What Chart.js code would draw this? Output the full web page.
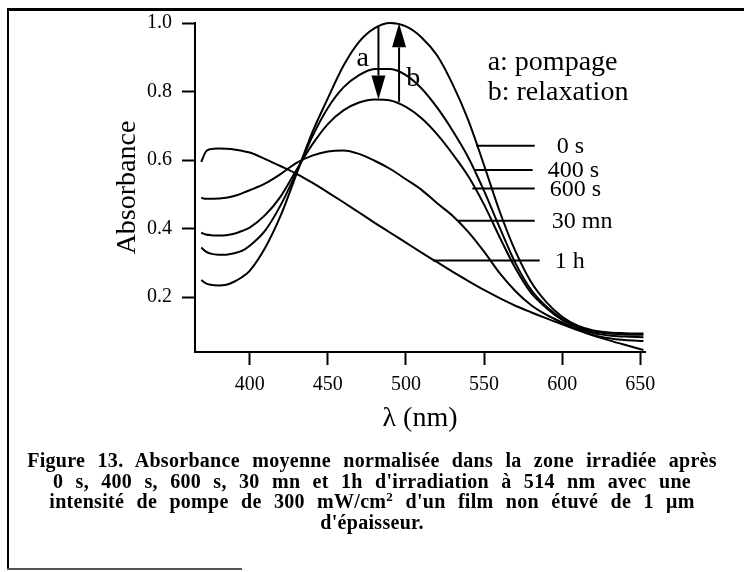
<!DOCTYPE html>
<html lang="fr">
<head>
<meta charset="utf-8">
<title>Figure 13 - Absorbance moyenne normalisée</title>
<script src="https://cdn.jsdelivr.net/npm/chart.js@4.4.1/dist/chart.umd.min.js"></script>
<style>
    html, body { margin: 0; padding: 0; background: #fff; }
    #wrap { position: relative; width: 744px; height: 572px; overflow: hidden; background: #fff; }
    #chart { position: absolute; left: 0; top: 0; }
    .frame { position: absolute; background: #000; }
    #caption {
        position: absolute; left: 0; top: 450px; width: 744px; text-align: center;
        font-family: "Liberation Serif", "Times New Roman", serif; font-weight: bold;
        font-size: 20px; line-height: 20.7px; letter-spacing: 0.3px; word-spacing: 7px; color: #000;
    }
    #caption sup { font-size: 13px; line-height: 0; vertical-align: 0.55em; }
</style>
</head>
<body>
<div id="wrap">
    <canvas id="chart" width="744" height="572"></canvas>
    <div class="frame" style="left:7px; top:8px; width:737px; height:3px;"></div>
    <div class="frame" style="left:7px; top:8px; width:2px; height:562px;"></div>
    <div class="frame" style="left:7px; top:568px; width:235px; height:2px; background:#555;"></div>
    <div id="caption">
        <div>Figure 13. Absorbance moyenne normalisée dans la zone irradiée après</div>
        <div>0 s, 400 s, 600 s, 30 mn et 1h d'irradiation à 514 nm avec une</div>
        <div>intensité de pompe de 300 mW/cm<sup>2</sup> d'un film non étuvé de 1 μm</div>
        <div>d'épaisseur.</div>
    </div>
</div>
<script>
    // wavelengths (nm) shared by every spectrum
    const wavelengths = [369, 372, 375, 380, 385, 390, 395, 400, 410, 420, 430, 440, 450, 460, 470, 480, 490,
        500, 510, 520, 530, 540, 550, 560, 570, 580, 590, 600, 610, 620, 630, 640, 652];

    const seriesNames = ['0 s', '400 s', '600 s', '30 mn', '1 h'];

    const abs0s = [0.25, 0.24, 0.236, 0.234, 0.236, 0.245, 0.258, 0.277, 0.345, 0.44, 0.56, 0.68, 0.78, 0.875, 0.945, 0.985, 1.0,
        0.99, 0.958, 0.905, 0.82, 0.715, 0.585, 0.45, 0.335, 0.245, 0.185, 0.143, 0.117, 0.103, 0.097, 0.095, 0.094];
    const abs400s = [0.345, 0.333, 0.327, 0.324, 0.324, 0.328, 0.335, 0.35, 0.395, 0.47, 0.565, 0.668, 0.752, 0.812, 0.848, 0.866, 0.866,
        0.848, 0.809, 0.753, 0.685, 0.607, 0.51, 0.403, 0.3, 0.222, 0.172, 0.137, 0.113, 0.1, 0.094, 0.091, 0.09];
    const abs600s = [0.388, 0.383, 0.381, 0.38, 0.381, 0.385, 0.393, 0.403, 0.44, 0.495, 0.572, 0.645, 0.705, 0.745, 0.768, 0.777, 0.774,
        0.755, 0.722, 0.675, 0.617, 0.552, 0.47, 0.375, 0.285, 0.213, 0.168, 0.134, 0.11, 0.095, 0.088, 0.085, 0.083];
    const abs30mn = [0.49, 0.487, 0.487, 0.488, 0.49, 0.495, 0.503, 0.512, 0.532, 0.56, 0.592, 0.613, 0.625, 0.628, 0.618, 0.598, 0.574,
        0.544, 0.513, 0.474, 0.437, 0.39, 0.333, 0.27, 0.218, 0.177, 0.148, 0.126, 0.105, 0.089, 0.08, 0.075, 0.072];
    const abs1h = [0.595, 0.625, 0.632, 0.634, 0.633, 0.631, 0.627, 0.622, 0.603, 0.582, 0.56, 0.534, 0.506, 0.477, 0.447, 0.417, 0.388,
        0.359, 0.33, 0.302, 0.274, 0.247, 0.221, 0.197, 0.175, 0.156, 0.138, 0.121, 0.104, 0.088, 0.074, 0.061, 0.046];

    const xTicks = [400, 450, 500, 550, 600, 650];
    const yTicks = [0.2, 0.4, 0.6, 0.8, 1.0];

    // series labels on the right: [text, λ start, λ end, absorbance, λ of text]
    const seriesLabels = [
        ['0 s', 545, 582.4, 0.642, 596.5],
        ['400 s', 544, 581.1, 0.571, 590.7],
        ['600 s', 542.5, 582.4, 0.517, 592.0],
        ['30 mn', 533.2, 582.4, 0.423, 593.3],
        ['1 h', 517.2, 585.6, 0.307, 595.2]
    ];
    // arrows: [λ, absorbance from, absorbance to]
    const arrows = [[482.4, 0.99, 0.777], [495.6, 0.77, 0.999]];
    const arrowLetters = [['a', 472.3, 0.895], ['b', 504.6, 0.839]];
    const legendLines = [['a: pompage', 552.3, 0.863], ['b: relaxation', 552.3, 0.775]];

    const serif = '"Liberation Serif", "Times New Roman", serif';
    const allSeries = [abs0s, abs400s, abs600s, abs30mn, abs1h];

    const annotationPlugin = {
        id: 'annotations',
        afterDatasetsDraw(chart) {
            const { ctx, scales: { x, y } } = chart;
            ctx.save();
            ctx.strokeStyle = '#000';
            ctx.fillStyle = '#000';
            ctx.lineWidth = 2;

            ctx.font = '24px ' + serif;
            ctx.textAlign = 'left';
            ctx.textBaseline = 'middle';
            seriesLabels.forEach(([text, l0, l1, a, lt]) => {
                const py = y.getPixelForValue(a);
                ctx.beginPath();
                ctx.moveTo(x.getPixelForValue(l0), py);
                ctx.lineTo(x.getPixelForValue(l1), py);
                ctx.stroke();
                ctx.fillText(text, x.getPixelForValue(lt), py + 1);
            });

            arrows.forEach(([l, a0, a1]) => {
                const px = x.getPixelForValue(l);
                const y0 = y.getPixelForValue(a0);
                const y1 = y.getPixelForValue(a1);
                const dir = Math.sign(y1 - y0);
                const headLen = 24, headHalf = 7;
                ctx.beginPath();
                ctx.moveTo(px, y0);
                ctx.lineTo(px, y1 - dir * headLen);
                ctx.stroke();
                ctx.beginPath();
                ctx.moveTo(px, y1);
                ctx.lineTo(px - headHalf, y1 - dir * headLen);
                ctx.lineTo(px + headHalf, y1 - dir * headLen);
                ctx.closePath();
                ctx.fill();
            });

            ctx.font = '28px ' + serif;
            ctx.textAlign = 'center';
            arrowLetters.forEach(([t, l, a]) => {
                ctx.fillText(t, x.getPixelForValue(l), y.getPixelForValue(a));
            });

            ctx.textAlign = 'left';
            ctx.textBaseline = 'alphabetic';
            legendLines.forEach(([t, l, a]) => {
                ctx.fillText(t, x.getPixelForValue(l), y.getPixelForValue(a));
            });
            ctx.restore();
        }
    };

    const chart = new Chart(document.getElementById('chart'), {
        type: 'line',
        data: {
            datasets: seriesNames.map((name, i) => ({
                label: name,
                data: wavelengths.map((w, j) => ({ x: w, y: allSeries[i][j] })),
                borderColor: '#000',
                borderWidth: 2,
                pointRadius: 0,
                fill: false,
                clip: false,
                cubicInterpolationMode: 'monotone'
            }))
        },
        options: {
            responsive: false,
            animation: false,
            layout: { padding: { left: 100, top: 23, right: 99, bottom: 137 } },
            plugins: { legend: { display: false }, tooltip: { enabled: false } },
            scales: {
                x: {
                    type: 'linear',
                    min: 365,
                    max: 653,
                    afterBuildTicks: axis => { axis.ticks = xTicks.map(v => ({ value: v })); },
                    afterFit: axis => { axis.height = 83; },
                    ticks: { color: '#000', font: { family: serif, size: 20 }, padding: 8, maxRotation: 0 },
                    grid: { drawOnChartArea: false, tickLength: 13, tickWidth: 2, tickColor: '#000' },
                    border: { color: '#000', width: 2 },
                    title: { display: true, text: 'λ (nm)', color: '#000', font: { family: serif, size: 28 }, padding: { top: 0, bottom: 0 } }
                },
                y: {
                    min: 0.04,
                    max: 1.0,
                    afterBuildTicks: axis => { axis.ticks = yTicks.map(v => ({ value: v })); },
                    afterFit: axis => { axis.width = 95; },
                    ticks: { color: '#000', font: { family: serif, size: 20 }, padding: 10, callback: v => v.toFixed(1) },
                    grid: { drawOnChartArea: false, tickLength: 13, tickWidth: 2, tickColor: '#000' },
                    border: { color: '#000', width: 2 },
                    title: { display: true, text: 'Absorbance', color: '#000', font: { family: serif, size: 28 }, padding: { top: 11, bottom: 0 } }
                }
            }
        },
        plugins: [annotationPlugin]
    });
</script>
</body>
</html>
